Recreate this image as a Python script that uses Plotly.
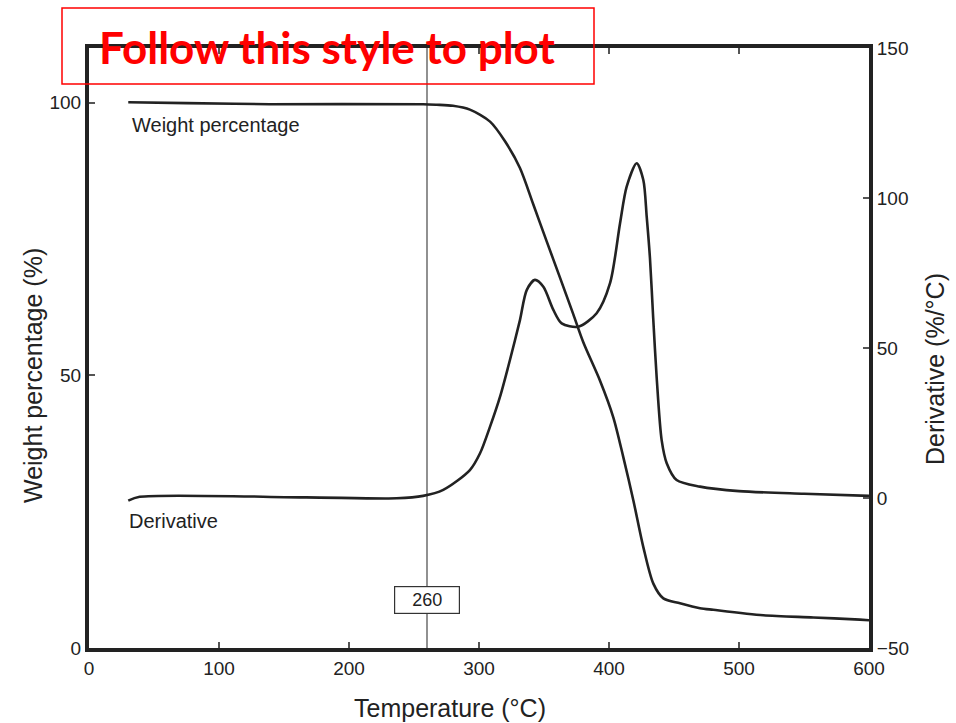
import plotly.graph_objects as go

# Weight percentage curve (left axis)
temp_w = [30.2, 75, 139, 257, 267.5, 280, 293, 308.5, 320, 331.5, 341.8, 352, 362.3, 372.5,
          380.3, 393.1, 403.3, 411, 418.7, 426.4, 434.1, 441.8, 454.6, 470, 480.2,
          518.7, 557.2, 593, 600]
weight = [100.05, 99.9, 99.7, 99.7, 99.6, 99.4, 98.7, 96.5, 92.9, 88.0, 81.3, 74.6, 67.9, 61.2,
          56.0, 49.0, 42.3, 35.0, 27.1, 18.5, 11.8, 9.1, 8.2, 7.3, 7.0,
          6.0, 5.6, 5.2, 5.1]

# Derivative curve (right axis)
temp_d = [30.2, 39, 167, 236.7, 257, 272.5, 293, 300.8, 308.5, 316.2, 323.8, 331.5, 336.7,
          343, 349.5, 357.2, 363.6, 376.4, 390.5, 400.8, 408.5, 413.6, 421.3, 426.4, 429,
          431.5, 434, 436.7, 440.5, 444.4, 452, 470, 500, 550, 600]
deriv = [-0.9, 0.4, 0.2, -0.1, 0.7, 2.7, 9.3, 14.9, 23.8, 33.8, 46, 59.3, 69.3,
         72.7, 70.4, 62.7, 58.2, 57.1, 61.6, 71.6, 91.6, 103.8, 111.6, 106, 93.8,
         80, 60, 40, 19.3, 11.6, 6, 3.8, 2.3, 1.4, 0.7]

x_ticks = [0, 100, 200, 300, 400, 500, 600]
y_ticks = [0, 50, 100]
y2_ticks = [-50, 0, 50, 100, 150]
marker_temp = 260

FONT = "Liberation Sans, Arial, sans-serif"
LINE = "#222222"
TXT = "#222222"

fig = go.Figure()
fig.add_trace(go.Scatter(x=temp_w, y=weight, mode="lines",
                         line=dict(color=LINE, width=2.6, shape="spline", smoothing=0.8),
                         showlegend=False, yaxis="y"))
fig.add_trace(go.Scatter(x=temp_d, y=deriv, mode="lines",
                         line=dict(color=LINE, width=2.6, shape="spline", smoothing=0.8),
                         showlegend=False, yaxis="y2"))

fig.add_shape(type="line", xref="x", yref="paper", x0=marker_temp, x1=marker_temp, y0=0, y1=1,
              line=dict(color="#555555", width=1.3), layer="below")

fig.add_annotation(x=marker_temp, y=8.8, xref="x", yref="y", text=str(marker_temp), showarrow=False,
                   font=dict(family=FONT, size=18, color=TXT), bgcolor="white",
                   bordercolor="#333", borderwidth=1.2, borderpad=3, width=58)
fig.add_annotation(x=31.5, y=95.8, xref="x", yref="y", text="Weight percentage", showarrow=False,
                   xanchor="left", yanchor="middle", font=dict(family=FONT, size=20, color=TXT))
fig.add_annotation(x=29.5, y=23.2, xref="x", yref="y", text="Derivative", showarrow=False,
                   xanchor="left", yanchor="middle", font=dict(family=FONT, size=20, color=TXT))

# Axis titles
fig.add_annotation(xref="paper", yref="paper", x=(450 - 89) / 780, y=(648 - 708) / 600,
                   text="Temperature (°C)", showarrow=False, xanchor="center", yanchor="middle",
                   font=dict(family=FONT, size=25, color=TXT))
fig.add_annotation(xref="paper", yref="paper", x=(33 - 89) / 780, y=(648 - 376) / 600,
                   text="Weight percentage (%)", showarrow=False, textangle=-90,
                   xanchor="center", yanchor="middle", font=dict(family=FONT, size=25, color=TXT))
fig.add_annotation(xref="paper", yref="paper", x=(935 - 89) / 780, y=(648 - 369) / 600,
                   text="Derivative (%/°C)", showarrow=False, textangle=-90,
                   xanchor="center", yanchor="middle", font=dict(family=FONT, size=25, color=TXT))

# Title box
fig.add_shape(type="rect", xref="paper", yref="paper", x0=(62 - 89) / 780, x1=(594 - 89) / 780,
              y0=(648 - 84) / 600, y1=(648 - 8) / 600, line=dict(color="red", width=1.5), layer="above")
fig.add_annotation(xref="paper", yref="paper", x=(327 - 89) / 780, y=(648 - 47) / 600,
                   text="<b>Follow this style to plot</b>", showarrow=False,
                   xanchor="center", yanchor="middle",
                   font=dict(family="Lato, Open Sans, sans-serif", size=44, color="red"))

axis_common = dict(ticks="inside", ticklen=6, tickwidth=1.5, tickcolor="#555",
                   showgrid=False, zeroline=False, showline=True, linecolor=LINE, linewidth=4,
                   tickfont=dict(family=FONT, size=19, color=TXT))

fig.update_layout(
    width=956, height=723,
    margin=dict(l=89, r=87, t=48, b=75),
    plot_bgcolor="white", paper_bgcolor="white",
    xaxis=dict(range=[0, 600], tickvals=x_ticks, mirror="ticks", **axis_common),
    yaxis=dict(range=[0, 110], tickvals=y_ticks, **axis_common),
    yaxis2=dict(range=[-50, 150], tickvals=y2_ticks, overlaying="y", side="right", **axis_common),
)

fig.write_html("out.html")
